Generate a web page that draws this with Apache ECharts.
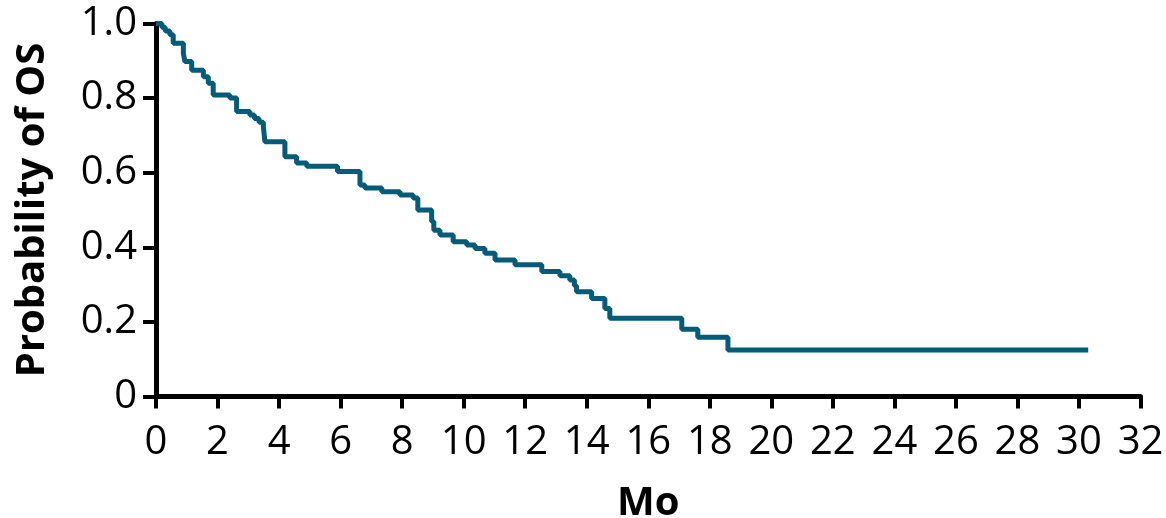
<!DOCTYPE html>
<html>
<head>
<meta charset="utf-8">
<script src="https://cdn.jsdelivr.net/npm/echarts@6/dist/echarts.min.js"></script>
<style>
html,body{margin:0;padding:0;background:#fff;}
#chart{width:1166px;height:518px;}
</style>
</head>
<body>
<div id="chart"></div>
<script>
// Kaplan-Meier step curve: time of each step (months) and survival after it
const months = [0, 0.19, 0.30, 0.45, 0.56, 0.89, 0.94, 1.16, 1.54, 1.70, 1.86, 2.40, 2.62, 3.05, 3.20, 3.35, 3.49, 3.54, 4.19, 4.57, 4.90, 5.90, 6.63, 6.79, 7.34, 7.93, 8.36, 8.51, 8.96, 9.03, 9.23, 9.66, 10.10, 10.37, 10.69, 11.02, 11.67, 12.54, 13.13, 13.45, 13.60, 13.67, 14.16, 14.59, 14.75, 17.09, 17.61, 18.59, 30.30];
const probOS = [1.0, 0.99, 0.98, 0.97, 0.947, 0.92, 0.898, 0.875, 0.857, 0.84, 0.808, 0.80, 0.764, 0.755, 0.745, 0.735, 0.723, 0.683, 0.643, 0.626, 0.617, 0.603, 0.567, 0.559, 0.549, 0.54, 0.532, 0.50, 0.469, 0.446, 0.433, 0.415, 0.406, 0.397, 0.384, 0.366, 0.353, 0.335, 0.324, 0.312, 0.297, 0.281, 0.263, 0.236, 0.21, 0.18, 0.159, 0.125, 0.125];
const xTicks = [0, 2, 4, 6, 8, 10, 12, 14, 16, 18, 20, 22, 24, 26, 28, 30, 32];
const yTicks = ['0', '0.2', '0.4', '0.6', '0.8', '1.0'];
const xTitle = 'Mo';
const yTitle = 'Probability of OS';

const FONT = '"Open Sans", "Noto Sans", sans-serif';
const chart = echarts.init(document.getElementById('chart'), null, {renderer: 'canvas'});
const data = months.map((m, i) => [m, probOS[i]]);

chart.setOption({
  animation: false,
  backgroundColor: '#fff',
  grid: {left: 156, right: 25.5, top: 23.5, bottom: 121.5, containLabel: false, outerBoundsMode: 'none'},
  xAxis: {
    type: 'value', min: 0, max: 32, interval: 2,
    name: xTitle, nameLocation: 'middle', nameGap: 87,
    nameTextStyle: {fontFamily: FONT, fontSize: 40, fontWeight: 'bold', color: '#000'},
    axisLine: {show: true, onZero: false, lineStyle: {color: '#000', width: 5}},
    axisTick: {show: true, length: 12, lineStyle: {color: '#000', width: 4}},
    axisLabel: {fontFamily: FONT, fontSize: 40, color: '#000', margin: 26,
      formatter: v => xTicks.includes(v) ? String(v) : ''},
    splitLine: {show: false}
  },
  yAxis: {
    type: 'value', min: 0, max: 1, interval: 0.2,
    name: yTitle, nameLocation: 'middle', nameGap: 103, nameRotate: 90,
    nameTextStyle: {fontFamily: FONT, fontSize: 40, fontWeight: 'bold', color: '#000'},
    axisLine: {show: true, lineStyle: {color: '#000', width: 5}},
    axisTick: {show: true, length: 13, lineStyle: {color: '#000', width: 4}},
    axisLabel: {fontFamily: FONT, fontSize: 40, color: '#000', margin: 19,
      formatter: v => yTicks[Math.round(v * 5)]},
    splitLine: {show: false}
  },
  series: [{
    type: 'line', step: 'end', data: data, showSymbol: false,
    lineStyle: {color: '#035b78', width: 5},
    silent: true
  }]
});
</script>
</body>
</html>
